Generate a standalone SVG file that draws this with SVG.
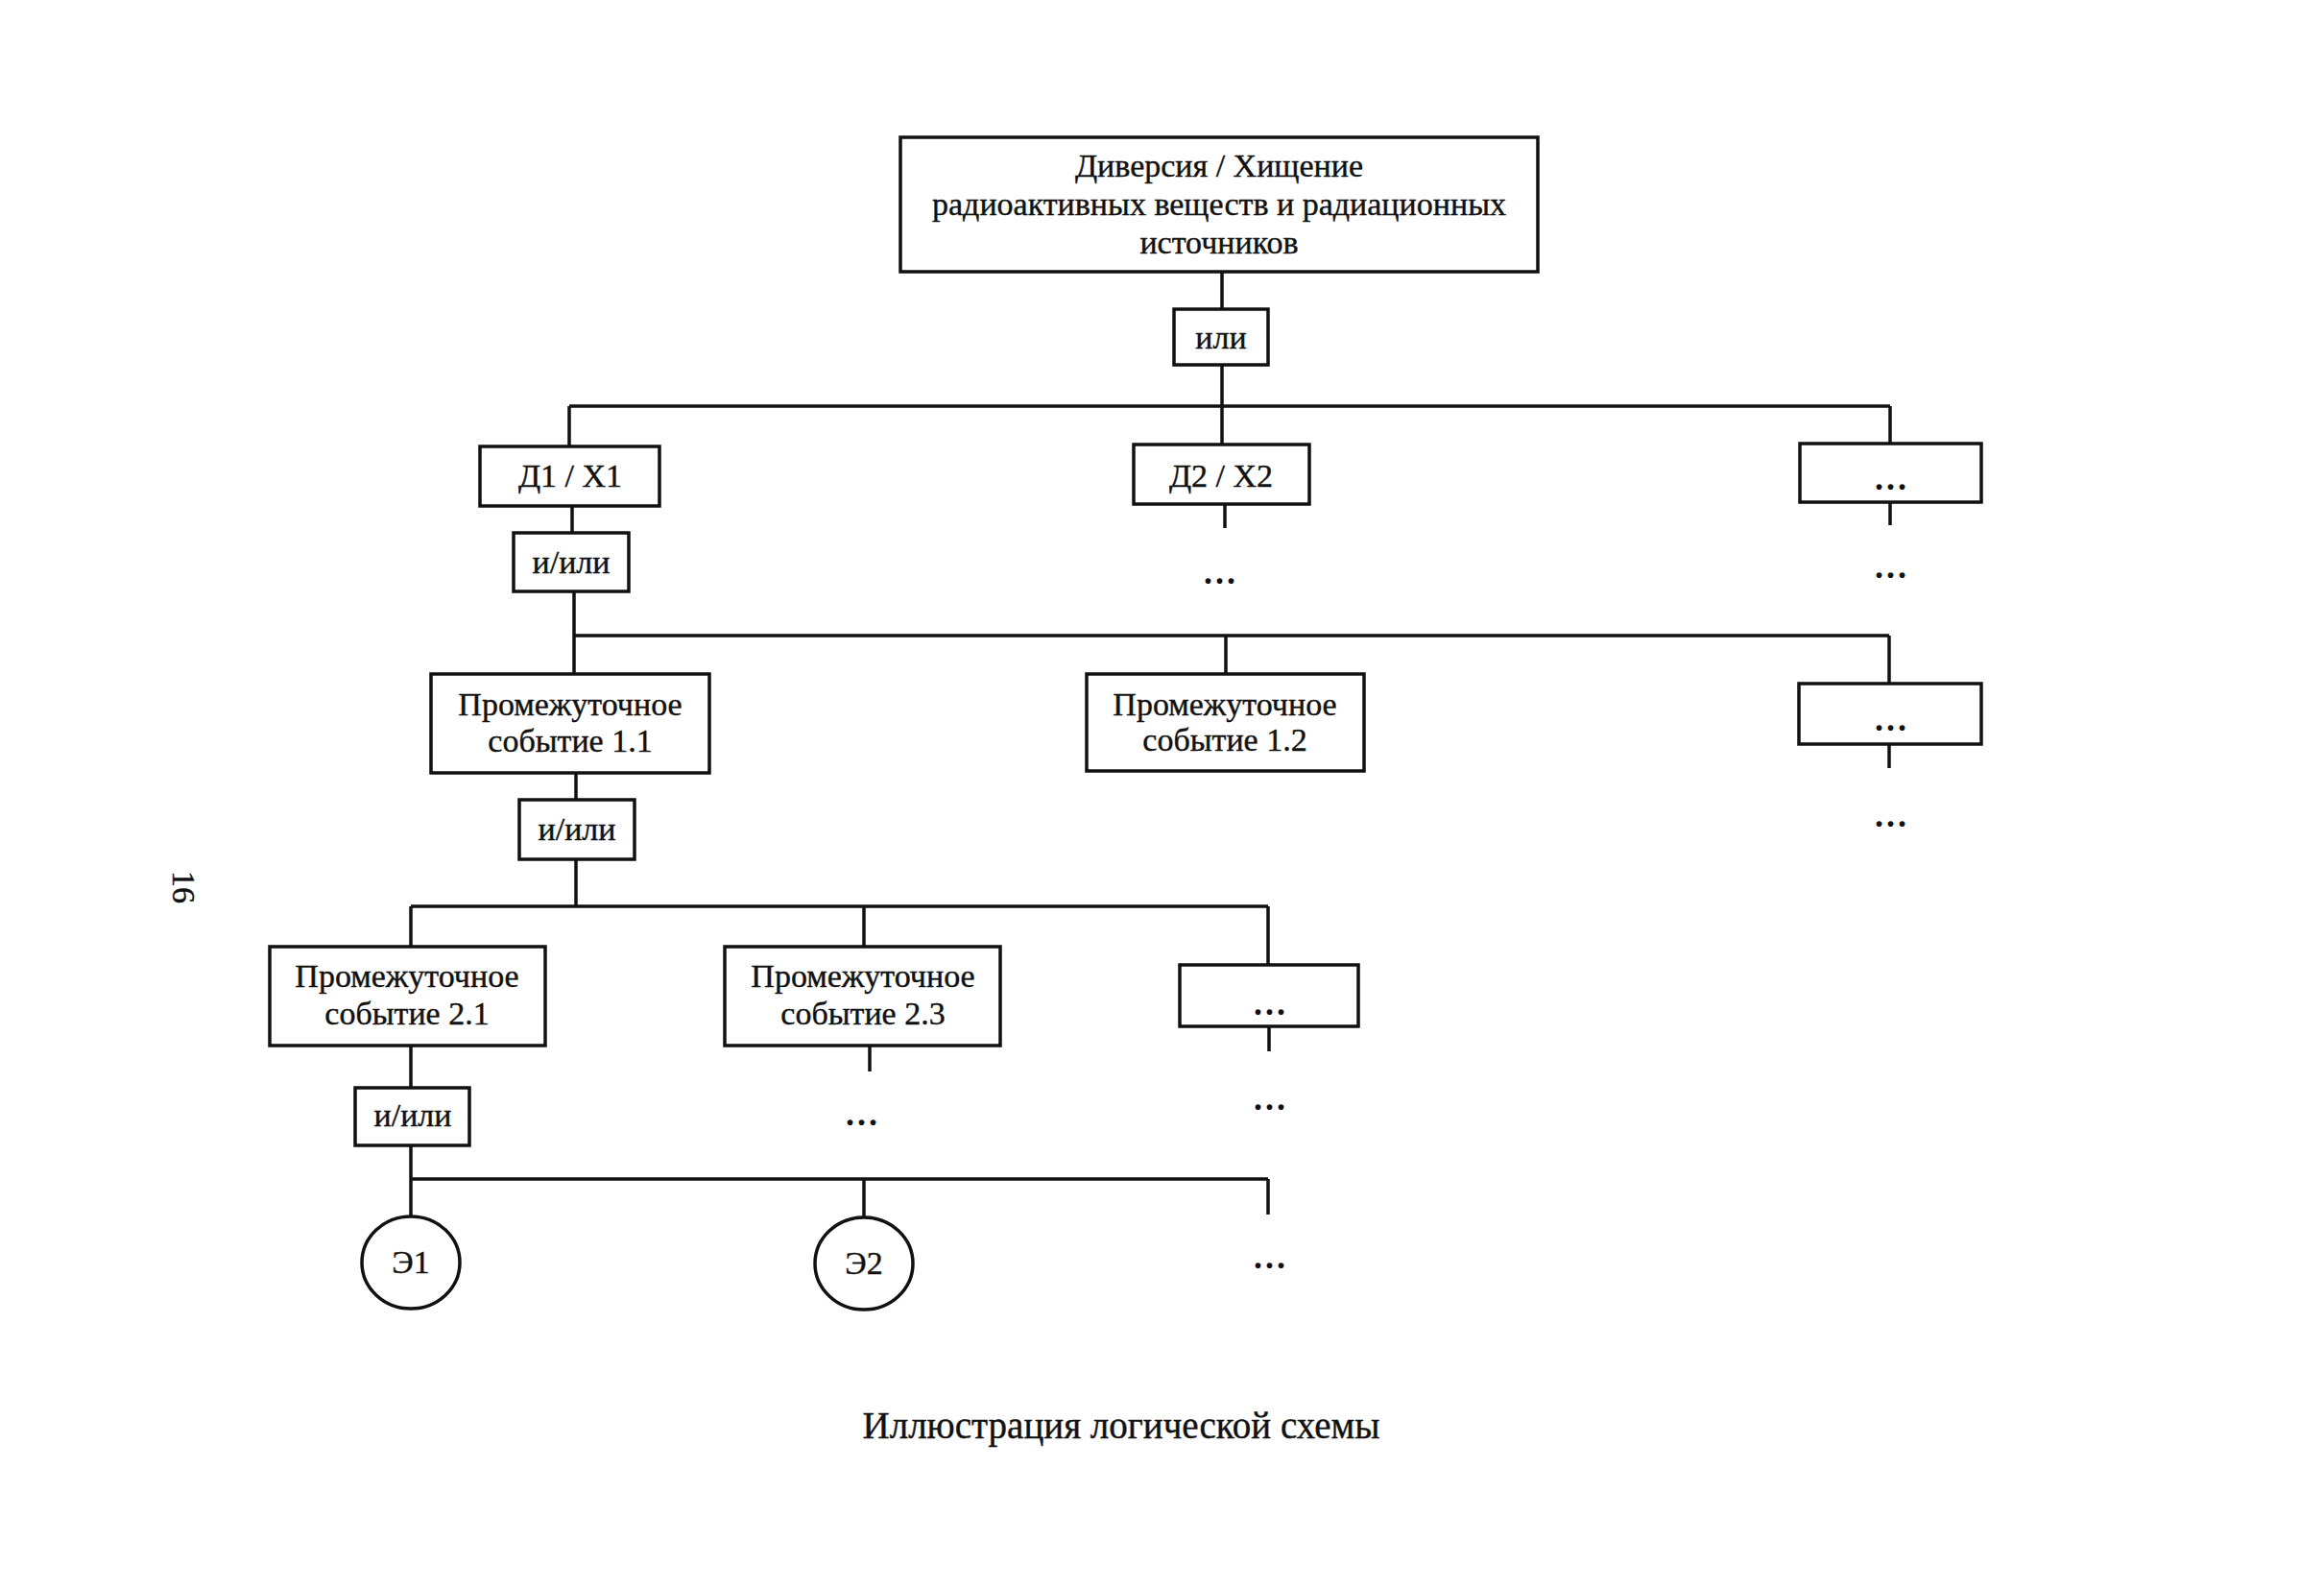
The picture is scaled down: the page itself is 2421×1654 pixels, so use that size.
<svg xmlns="http://www.w3.org/2000/svg" width="2421" height="1654" viewBox="0 0 2421 1654">
<style>
.box{fill:#fff;stroke:#111;stroke-width:3.5}
.ln{stroke:#111;stroke-width:3.5;fill:none}
.t{font-family:"Liberation Serif","Times New Roman",serif;font-size:34px;fill:#111;stroke:#111;stroke-width:0.4;text-anchor:middle}
.d{font-family:"Liberation Serif","Times New Roman",serif;font-size:36px;font-weight:bold;fill:#111;text-anchor:middle;letter-spacing:3px}
.cap{font-family:"Liberation Serif","Times New Roman",serif;font-size:39px;fill:#111;stroke:#111;stroke-width:0.4;text-anchor:middle}
</style>
<rect width="2421" height="1654" fill="#fff"/>
<g id="connectors">
<path class="ln" d="M1273 283V322M1273 380V423M593 423H1969M593 423V465M1273 423V463M1969 423V462"/>
<path class="ln" d="M1276 525V550M1969 523V547"/>
<path class="ln" d="M596 527V555M598 616V702M598 662H1968M1277 662V702M1968 662V712M1968 775V800"/>
<path class="ln" d="M600 805V833M600 895V944M428 944H1321M428 944V986M900 944V986M1321 944V1005M1322 1069V1095M906 1089V1116"/>
<path class="ln" d="M428 1089V1133M428 1193V1268M428 1228H1321M1321 1228V1265M900 1228V1268"/>
</g>
<g id="top">
<rect class="box" x="938" y="143" width="664" height="140"/>
<text class="t" x="1270" y="184">Диверсия / Хищение</text>
<text class="t" x="1270" y="224">радиоактивных веществ и радиационных</text>
<text class="t" x="1270" y="264">источников</text>
</g>
<g id="gate-or">
<rect class="box" x="1223" y="322" width="98" height="58"/>
<text class="t" x="1272" y="363">или</text>
</g>
<g id="d1">
<rect class="box" x="500" y="465" width="187" height="62"/>
<text class="t" x="594" y="507">Д1 / Х1</text>
</g>
<g id="d2">
<rect class="box" x="1181" y="463" width="183" height="62"/>
<text class="t" x="1272" y="507">Д2 / Х2</text>
</g>
<g id="d-more">
<rect class="box" x="1875" y="462" width="189" height="61"/>
<text class="d" x="1971" y="510">...</text>
</g>
<g id="d2-cont"><text class="d" x="1272" y="608">...</text></g>
<g id="d-more-cont"><text class="d" x="1971" y="602">...</text></g>
<g id="gate1">
<rect class="box" x="535" y="555" width="120" height="61"/>
<text class="t" x="595" y="597">и/или</text>
</g>
<g id="e11">
<rect class="box" x="449" y="702" width="290" height="103"/>
<text class="t" x="594" y="745">Промежуточное</text>
<text class="t" x="594" y="783">событие 1.1</text>
</g>
<g id="e12">
<rect class="box" x="1132" y="702" width="289" height="101"/>
<text class="t" x="1276" y="745">Промежуточное</text>
<text class="t" x="1276" y="782">событие 1.2</text>
</g>
<g id="e1-more">
<rect class="box" x="1874" y="712" width="190" height="63"/>
<text class="d" x="1971" y="761">...</text>
</g>
<g id="e1-more-cont"><text class="d" x="1971" y="861">...</text></g>
<g id="gate2">
<rect class="box" x="541" y="833" width="120" height="62"/>
<text class="t" x="601" y="875">и/или</text>
</g>
<g id="e21">
<rect class="box" x="281" y="986" width="287" height="103"/>
<text class="t" x="424" y="1028">Промежуточное</text>
<text class="t" x="424" y="1067">событие 2.1</text>
</g>
<g id="e23">
<rect class="box" x="755" y="986" width="287" height="103"/>
<text class="t" x="899" y="1028">Промежуточное</text>
<text class="t" x="899" y="1067">событие 2.3</text>
</g>
<g id="e2-more">
<rect class="box" x="1229" y="1005" width="186" height="64"/>
<text class="d" x="1324" y="1057">...</text>
</g>
<g id="e2-more-cont"><text class="d" x="1324" y="1156">...</text></g>
<g id="e23-cont"><text class="d" x="899" y="1172">...</text></g>
<g id="gate3">
<rect class="box" x="370" y="1133" width="119" height="60"/>
<text class="t" x="430" y="1173">и/или</text>
</g>
<g id="b1">
<ellipse class="box" cx="428" cy="1315" rx="51" ry="48"/>
<text class="t" x="428" y="1326">Э1</text>
</g>
<g id="b2">
<ellipse class="box" cx="900" cy="1316" rx="51" ry="48"/>
<text class="t" x="900" y="1327">Э2</text>
</g>
<g id="b-more"><text class="d" x="1324" y="1321">...</text></g>
<text class="cap" x="1168" y="1498">Иллюстрация логической схемы</text>
<text class="t" transform="translate(191,924) rotate(90)" x="0" y="11">16</text>
</svg>
